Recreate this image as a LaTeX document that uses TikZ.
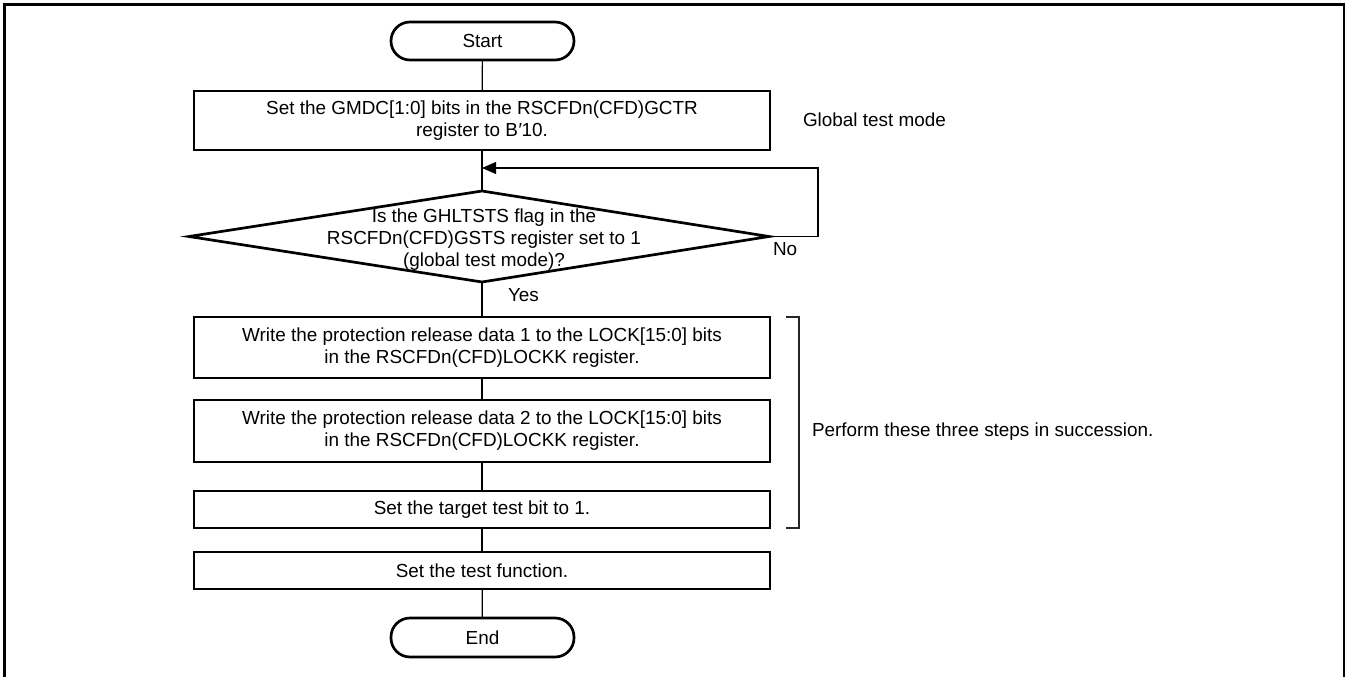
\documentclass[tikz,border=0pt]{standalone}
\usepackage{fontspec}
\setmainfont{Liberation Sans}
\usetikzlibrary{arrows.meta}
\begin{document}
\begin{tikzpicture}[x=1pt,y=-1pt,
  every node/.style={font=\fontsize{18.9pt}{22pt}\selectfont, inner sep=0pt, outer sep=0pt},
  proc/.style={draw, line width=2.7pt, minimum width=576pt, align=center},
  term/.style={draw, line width=2.7pt, minimum width=183pt, minimum height=38pt, rounded corners=19pt},
  conn/.style={line width=1.2pt},
  lbl/.style={anchor=west},
  thickline/.style={line width=2.7pt, line join=miter}]
\useasboundingbox (0,0) rectangle (1346,677);
% frame
\draw[line width=2.7pt] (4.7,700) -- (4.7,4.7) -- (1344,4.7) -- (1344,700);

\node[term] (start) at (482.5,41) {Start};
\node[proc, minimum height=59pt] (b1) at (482,120.5) {Set the GMDC[1:0] bits in the RSCFDn(CFD)GCTR\\register to B\kern0.5pt\char"2032\kern-0.5pt10.};

% decision diamond
\coordinate (dtop) at (482,191);
\coordinate (dright) at (769,236.5);
\coordinate (dbot) at (482,282);
\coordinate (dleft) at (189,236.5);
\draw[thickline] (dtop) -- (dright) -- (dbot) -- (dleft) -- cycle;
\node[align=center] (dtext) at (484,240) {Is the GHLTSTS flag in the\\RSCFDn(CFD)GSTS register set to 1\\(global test mode)?};

\node[proc, minimum height=61pt] (b3) at (482,347.5) {Write the protection release data 1 to the LOCK[15:0] bits\\in the RSCFDn(CFD)LOCKK register.};
\node[proc, minimum height=62pt] (b4) at (482,431) {Write the protection release data 2 to the LOCK[15:0] bits\\in the RSCFDn(CFD)LOCKK register.};
\node[proc, minimum height=37pt] (b5) at (482,509.5) {Set the target test bit to 1.};
\node[proc, minimum height=37pt] (b6) at (482,570.5) {Set the test function.};
\node[term, minimum height=39pt] (end) at (482.5,637.5) {End};

% connectors
\draw[conn] (start) -- (b1);
\draw[conn] (b1) -- (dtop);
\draw[conn] (dbot) -- (b3);
\draw[conn] (b3) -- (b4);
\draw[conn] (b4) -- (b5);
\draw[conn] (b5) -- (b6);
\draw[conn] (b6) -- (end);

% loop back
\coordinate (lr) at (818,236.5);
\coordinate (lt) at (818,168);
\coordinate (join) at (482,168);
\draw[conn, -{Triangle[length=14pt,width=12pt]}] (dright) -- (lr) -- (lt) -- (join);

% labels
\node[lbl] (no) at (773,249) {No};
\node[lbl] (yes) at (508,295) {Yes};
\node[lbl] (gtm) at (803,120) {Global test mode};
\node[lbl] (perf) at (812,432) {Perform these three steps in succession.};

% bracket
\coordinate (brt) at (786,317);
\coordinate (brb) at (786,528);
\draw[conn, black!85] (brt) -- (799,317) -- (799,528) -- (brb);
\end{tikzpicture}
\end{document}
